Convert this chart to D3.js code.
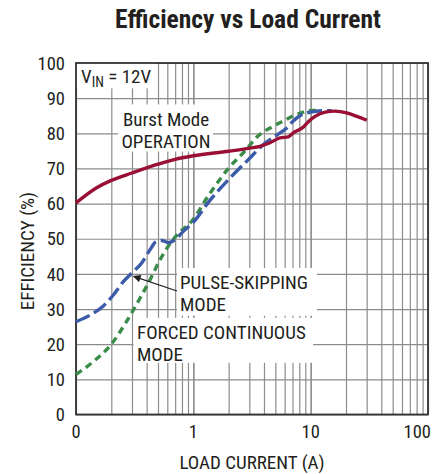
<!DOCTYPE html>
<head>
    <meta charset="utf-8">
    <title>Efficiency vs Load Current</title>
    <style>
        body { margin: 0; background: #fff; }
        svg { font-family: "Liberation Sans Narrow", "Roboto Condensed", "Liberation Sans", sans-serif; }
        .grid line { stroke: #8c8c8c; stroke-width: 1.2; }
        .grid path { display: none; }
    </style>
</head>

<body>

<svg width="441" height="474"></svg>

<script src="https://cdnjs.cloudflare.com/ajax/libs/d3/7.8.5/d3.min.js"></script>

<script>

    // load current (A) and efficiency (%), one pair of arrays per mode
    var burstCurrent = [0.1, 0.15, 0.2, 0.3, 0.5, 0.7, 1, 2, 3.04, 3.7, 4.5, 5.48, 6.45, 7.1, 8.67, 9.5, 10.9, 13.3, 16.1, 20.3, 24.8, 30.1];
    var burstEff     = [60.2, 64.5, 66.6, 68.7, 71.2, 72.6, 73.6, 74.9, 75.8, 76.3, 77.3, 78.7, 79.0, 80.1, 81.8, 83.2, 84.8, 86.0, 86.3, 85.8, 84.8, 83.7];

    var pulseCurrent = [0.1, 0.132, 0.171, 0.208, 0.253, 0.298, 0.363, 0.428, 0.481, 0.538, 0.613, 0.698, 0.821, 1.0, 1.39, 1.99, 2.94, 3.95, 5.14, 6.25, 7.1, 8.1, 9.9, 12.8, 15.1];
    var pulseEff     = [26.4, 28.3, 30.9, 34.0, 37.8, 40.2, 43.1, 46.9, 49.2, 49.5, 48.9, 49.7, 52.1, 54.7, 61.0, 66.8, 72.5, 76.8, 79.5, 81.5, 83.5, 85.0, 86.0, 86.4, 86.4];

    var forcedCurrent = [0.1, 0.14, 0.2, 0.27, 0.35, 0.43, 0.52, 0.63, 0.77, 0.94, 1.39, 1.99, 2.76, 3.5, 4.8, 6.25, 7.1, 8.67, 10.2, 12];
    var forcedEff     = [11.4, 15.0, 20.0, 26.5, 33.0, 38.5, 44.0, 48.5, 52.0, 54.5, 63.0, 70.0, 75.0, 79.0, 82.0, 84.0, 85.0, 86.0, 86.5, 86.5];

    var xTicks = [0.1, 1, 10, 100],
        xTickLabels = ["0", "1", "10", "100"];
    var yTicks = [0, 10, 20, 30, 40, 50, 60, 70, 80, 90, 100];

    var svg = d3.select("svg"),
        margin = {top: 63, right: 13, bottom: 59.5, left: 76},
        width = +svg.attr("width") - margin.left - margin.right,
        height = +svg.attr("height") - margin.top - margin.bottom;

    var x = d3.scaleLog().domain([0.1, 100]).range([0, width]),
        y = d3.scaleLinear().domain([0, 100]).range([height, 0]);

    var g = svg.append("g")
        .attr("transform", "translate(" + margin.left + "," + margin.top + ")");

    // title
    svg.append("text")
        .attr("x", 248).attr("y", 28)
        .attr("text-anchor", "middle")
        .style("font-size", "25.5px").style("font-weight", "bold").style("fill", "#231f20")
        .text("Efficiency vs Load Current");

    // grid: every minor decade line and every 10%
    var minor = [];
    [0.1, 1, 10].forEach(function(d) { for (var k = 1; k <= 10; k++) minor.push(d * k); });

    g.append("g").attr("class", "grid")
        .attr("transform", "translate(0," + height + ")")
        .call(d3.axisBottom(x).tickValues(minor).tickSize(-height).tickFormat(""));

    g.append("g").attr("class", "grid")
        .call(d3.axisLeft(y).tickValues(yTicks).tickSize(-width).tickFormat(""));

    // white label boxes knock out the grid
    var boxes = [
        [0.1, 0.48, 100, 92.8],    // VIN
        [0.228, 1.47, 88.2, 74.8], // Burst Mode
        [0.727, 11.3, 41.7, 28.1], // Pulse-skipping
        [0.31, 10.5, 27.5, 14.7]   // Forced continuous
    ];
    g.selectAll(".box").data(boxes).enter().append("rect")
        .attr("x", function(d) { return x(d[0]); })
        .attr("y", function(d) { return y(d[2]); })
        .attr("width", function(d) { return x(d[1]) - x(d[0]); })
        .attr("height", function(d) { return y(d[3]) - y(d[2]); })
        .style("fill", "#fff");

    // frame
    g.append("rect")
        .attr("width", width).attr("height", height)
        .style("fill", "none").style("stroke", "#333").style("stroke-width", 1.8);

    // tick labels
    g.selectAll(".xl").data(xTicks).enter().append("text")
        .attr("x", function(d) { return x(d); })
        .attr("y", height + 23)
        .attr("text-anchor", function(d, i) { return i == xTicks.length - 1 ? "end" : "middle"; })
        .attr("dx", function(d, i) { return i == xTicks.length - 1 ? 3 : 0; })
        .style("font-size", "18.5px").style("fill", "#231f20")
        .text(function(d, i) { return xTickLabels[i]; });

    g.selectAll(".yl").data(yTicks).enter().append("text")
        .attr("x", -11)
        .attr("y", function(d) { return y(d); })
        .attr("dy", "0.36em")
        .attr("text-anchor", "end")
        .style("font-size", "18.5px").style("fill", "#231f20")
        .text(function(d) { return d; });

    // axis titles
    svg.append("text")
        .attr("x", 252).attr("y", 469)
        .attr("text-anchor", "middle")
        .style("font-size", "19px").style("fill", "#231f20")
        .text("LOAD CURRENT (A)");

    svg.append("text")
        .attr("transform", "translate(34,251) rotate(-90)")
        .attr("text-anchor", "middle")
        .style("font-size", "19px").style("fill", "#231f20")
        .text("EFFICIENCY (%)");

    // curves
    var line = d3.line()
        .x(function(d) { return x(d[0]); })
        .y(function(d) { return y(d[1]); })
        .curve(d3.curveMonotoneX);

    var series = [
        {cur: forcedCurrent, eff: forcedEff, color: "#3a8c48", dash: "7,5"},
        {cur: pulseCurrent, eff: pulseEff, color: "#3b5ba9", dash: "15,5"},
        {cur: burstCurrent, eff: burstEff, color: "#9a0f34", dash: null}
    ];

    g.selectAll(".curve").data(series).enter().append("path")
        .attr("class", "curve")
        .attr("d", function(s) { return line(d3.zip(s.cur, s.eff)); })
        .style("fill", "none")
        .style("stroke", function(s) { return s.color; })
        .style("stroke-width", 3.4)
        .style("stroke-dasharray", function(s) { return s.dash; });

    // annotations
    function label(lines, px, py, anchor) {
        var t = svg.append("text")
            .attr("text-anchor", anchor)
            .style("font-size", "19px").style("fill", "#231f20");
        lines.forEach(function(s, i) {
            t.append("tspan").attr("x", px).attr("y", py + i * 21.5).text(s);
        });
    }

    var vin = svg.append("text").attr("x", 81).attr("y", 83)
        .style("font-size", "19px").style("fill", "#231f20");
    vin.append("tspan").text("V");
    vin.append("tspan").attr("dy", 4).style("font-size", "14px").text("IN");
    vin.append("tspan").attr("dy", -4).text(" = 12V");

    label(["Burst Mode", "OPERATION"], 166, 126, "middle");
    label(["PULSE-SKIPPING", "MODE"], 180, 289, "start");
    label(["FORCED CONTINUOUS", "MODE"], 137, 339, "start");

    // arrow to pulse-skipping curve
    svg.append("defs").append("marker")
        .attr("id", "head").attr("viewBox", "0 0 10 10")
        .attr("refX", 9).attr("refY", 5)
        .attr("markerWidth", 9).attr("markerHeight", 7)
        .attr("orient", "auto")
        .append("path").attr("d", "M0,0 L10,5 L0,10 z").style("fill", "#231f20");

    svg.append("line")
        .attr("x1", 177).attr("y1", 291)
        .attr("x2", x(0.31) + margin.left).attr("y2", y(39.3) + margin.top)
        .style("stroke", "#231f20").style("stroke-width", 1.1)
        .attr("marker-end", "url(#head)");

</script>

</body>
